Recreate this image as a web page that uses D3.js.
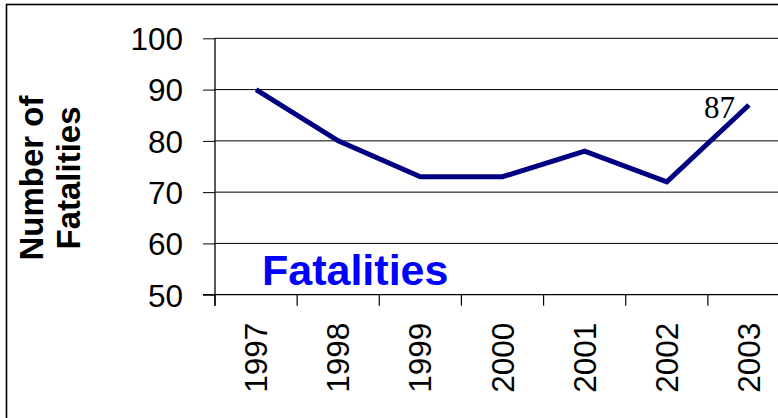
<!DOCTYPE html>
<html>
<head>
<meta charset="utf-8">
<script src="https://cdn.jsdelivr.net/npm/d3@7"></script>
<style>
  html, body { margin: 0; padding: 0; background: #fff; }
  svg { display: block; }
</style>
</head>
<body>
<svg id="chart" width="778" height="418"></svg>
<script>
const years = ["1997", "1998", "1999", "2000", "2001", "2002", "2003"];
const fatalities = [90, 80, 73, 73, 78, 72, 87];
const yTicks = [50, 60, 70, 80, 90, 100];
const labelledIndex = 6;
const titleText = "Fatalities";
const yTitleLines = ["Number of", "Fatalities"];

(function () {
const svg = d3.select("#chart");
const plotLeft = 215, plotRight = 790, plotTop = 38.3, plotBottom = 294.7;

// outer frame
svg.append("rect")
  .attr("x", 6.5).attr("y", 4.5)
  .attr("width", 820).attr("height", 500)
  .attr("fill", "none").attr("stroke", "#000").attr("stroke-width", 1.6);

const x = d3.scaleBand().domain(years).range([plotLeft, plotRight]).padding(0);
const y = d3.scaleLinear().domain([50, 100]).range([plotBottom, plotTop]);

// gridlines
svg.append("g").selectAll("line")
  .data(yTicks.filter(t => t > 50))
  .join("line")
  .attr("x1", plotLeft).attr("x2", plotRight)
  .attr("y1", d => y(d)).attr("y2", d => y(d))
  .attr("stroke", "#000").attr("stroke-width", 1);

// y axis
const yAxis = d3.axisLeft(y).tickValues(yTicks).tickSize(12).tickPadding(20).tickFormat(d3.format("d"));
const gy = svg.append("g").attr("transform", `translate(${plotLeft},0)`).call(yAxis);
gy.select(".domain").remove();
gy.selectAll(".tick line").attr("stroke", "#000");
gy.selectAll("text")
  .attr("font-family", "'Liberation Sans', Arial, sans-serif")
  .attr("font-size", 31.5).attr("fill", "#000").attr("dy", "0.36em");

// y axis line
svg.append("line")
  .attr("x1", plotLeft).attr("x2", plotLeft)
  .attr("y1", y(100)).attr("y2", y(50) + 11)
  .attr("stroke", "#000").attr("stroke-width", 1.3);

// x axis line
svg.append("line")
  .attr("x1", plotLeft - 12).attr("x2", plotRight)
  .attr("y1", y(50)).attr("y2", y(50))
  .attr("stroke", "#000").attr("stroke-width", 1.3);

// x boundary ticks
svg.append("g").selectAll("line")
  .data(years)
  .join("line")
  .attr("x1", d => x(d)).attr("x2", d => x(d))
  .attr("y1", y(50)).attr("y2", y(50) + 11)
  .attr("stroke", "#000").attr("stroke-width", 1.2);

// x labels
const xAxis = d3.axisBottom(x).tickSize(0).tickPadding(0);
const gx = svg.append("g").attr("transform", `translate(0,${y(50)})`).call(xAxis);
gx.select(".domain").remove();
gx.selectAll("text")
  .attr("font-family", "'Liberation Sans', Arial, sans-serif")
  .attr("font-size", 31.5).attr("fill", "#000")
  .attr("text-anchor", "end")
  .attr("transform", "rotate(-90)")
  .attr("x", -28).attr("y", 0).attr("dy", "0.35em");

// line
const line = d3.line()
  .x((d, i) => x(years[i]) + x.bandwidth() / 2)
  .y(d => y(d));
svg.append("path")
  .datum(fatalities)
  .attr("d", line)
  .attr("fill", "none")
  .attr("stroke", "#000080")
  .attr("stroke-width", 5)
  .attr("stroke-linejoin", "miter");

// data label
svg.append("text")
  .attr("x", x(years[labelledIndex]) + x.bandwidth() / 2 - 14)
  .attr("y", y(fatalities[labelledIndex]) + 13)
  .attr("text-anchor", "end")
  .attr("font-family", "'Liberation Serif', 'Times New Roman', serif")
  .attr("font-size", 31)
  .attr("fill", "#000")
  .text(fatalities[labelledIndex]);

// title in plot
svg.append("text")
  .attr("x", 262).attr("y", 285)
  .attr("font-family", "'Liberation Sans', Arial, sans-serif")
  .attr("font-weight", "bold")
  .attr("font-size", 43)
  .attr("fill", "#0000ff")
  .text(titleText);

// y title
const yt = svg.append("text")
  .attr("transform", "translate(43,178) rotate(-90)")
  .attr("text-anchor", "middle")
  .attr("font-family", "'Liberation Sans', Arial, sans-serif")
  .attr("font-weight", "bold")
  .attr("font-size", 33)
  .attr("fill", "#000");
yt.selectAll("tspan").data(yTitleLines).join("tspan")
  .attr("x", 0).attr("dy", (d, i) => i === 0 ? 0 : 37)
  .text(d => d);
})();
</script>
</body>
</html>
